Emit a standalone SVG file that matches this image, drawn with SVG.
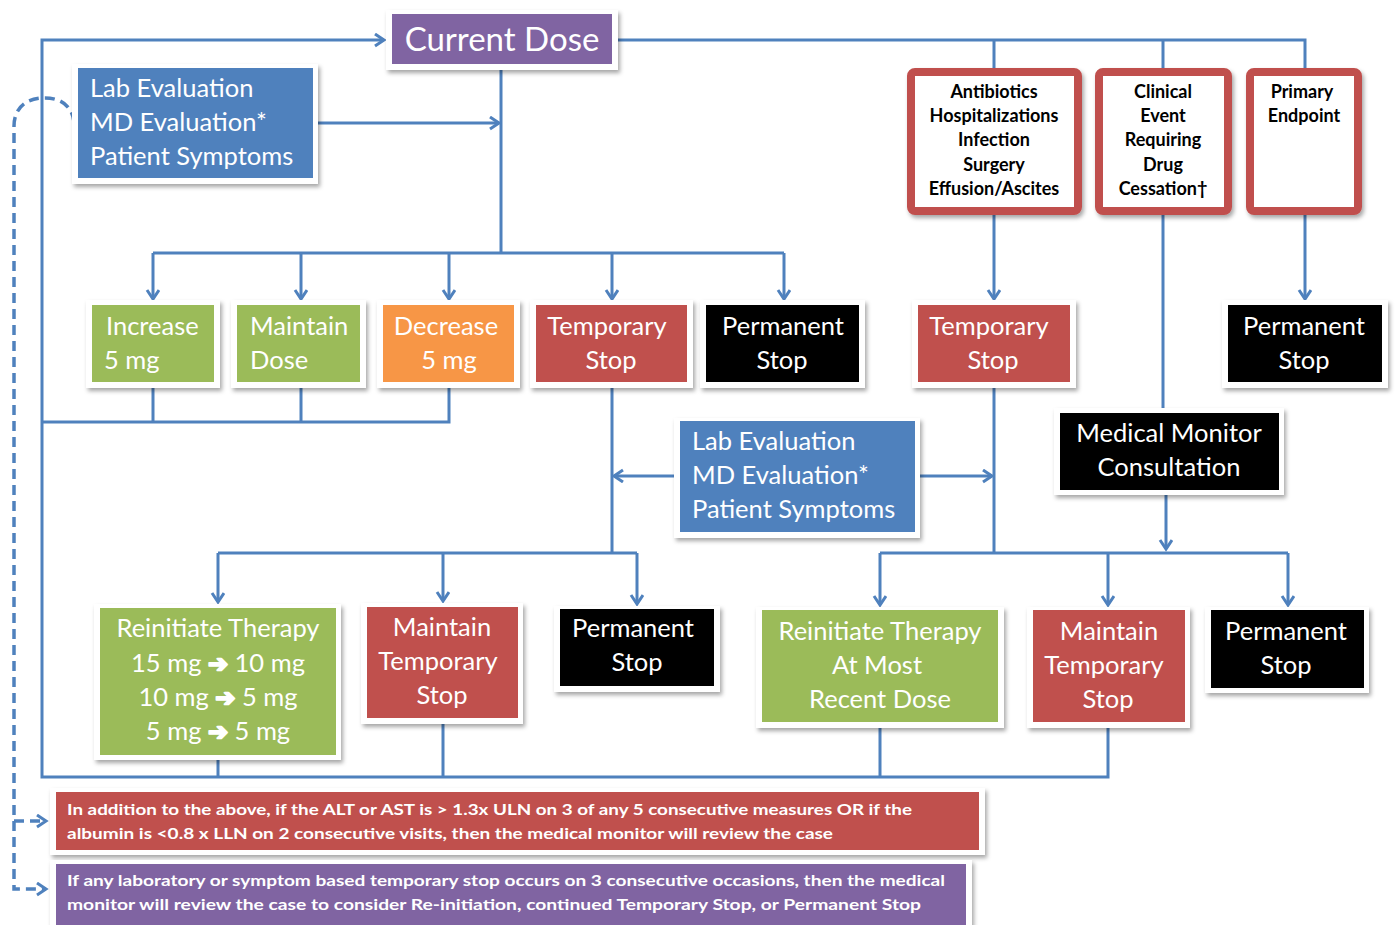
<svg xmlns="http://www.w3.org/2000/svg" width="1395" height="925" viewBox="0 0 1395 925">
<defs>
<filter id="sh" x="-10%" y="-10%" width="125%" height="130%">
<feDropShadow dx="2" dy="3" stdDeviation="2" flood-color="#000" flood-opacity="0.35"/>
</filter>
<marker id="ah" markerUnits="userSpaceOnUse" markerWidth="16" markerHeight="16" refX="11" refY="7" orient="auto">
<path d="M2,1 L11,7 L2,13" fill="none" stroke="#4F81BD" stroke-width="3"/>
</marker>
<style>
.frame{fill:#fff;filter:url(#sh)}
.grn{fill:#9BBB59}.org{fill:#F79646}.red{fill:#C0504D}.blk{fill:#000}.blu{fill:#4F81BD}.pur{fill:#8064A2}
.t{font-family:Lato,"Open Sans",sans-serif;font-size:25.5px;fill:#fff}
.c{text-anchor:middle}
.ar2{font-family:"DejaVu Sans",sans-serif;font-weight:bold;font-size:24px;stroke:#fff;stroke-width:2;stroke-linejoin:round}
.b{font-family:Lato,"Open Sans",sans-serif;font-size:18px;font-weight:bold;fill:#000;text-anchor:middle}
.n{font-family:Lato,"Open Sans",sans-serif;font-size:16px;font-weight:bold;fill:#fff}
.rb{fill:#fff;stroke:#C0504D;stroke-width:8;filter:url(#sh)}
.ln{fill:none;stroke:#4F81BD;stroke-width:3}
.ar{fill:none;stroke:#4F81BD;stroke-width:3;marker-end:url(#ah)}
.ds{fill:none;stroke:#4F81BD;stroke-width:3.5;stroke-dasharray:10 6}
</style>
</defs>
<rect width="1395" height="925" fill="#fff"/>

<g id="connectors">
<path class="ln" d="M1108,728 V777 H42 V40 H384" marker-end="url(#ah)"/>
<path class="ln" d="M218,760 V777 M443,724 V777 M880,728 V777"/>
<path class="ln" d="M449,388 V422 H42 M153,388 V422 M301,388 V422"/>
<path class="ln" d="M618,40 H1305 V68 M994,40 V68 M1163,40 V68"/>
<path class="ln" d="M501,70 V253 M153,253 H784"/>
<path class="ar" d="M153,253 V299"/>
<path class="ar" d="M301,253 V299"/>
<path class="ar" d="M449,253 V299"/>
<path class="ar" d="M612,253 V299"/>
<path class="ar" d="M784,253 V299"/>
<path class="ar" d="M318,123 H499"/>
<path class="ln" d="M612,388 V553 M218,553 H637"/>
<path class="ar" d="M218,553 V602"/>
<path class="ar" d="M443,553 V601"/>
<path class="ar" d="M637,553 V604"/>
<path class="ar" d="M674,476 H614"/>
<path class="ar" d="M920,476 H992"/>
<path class="ar" d="M994,214 V299"/>
<path class="ln" d="M994,388 V553"/>
<path class="ln" d="M1163,214 V408"/>
<path class="ar" d="M1305,214 V299"/>
<path class="ln" d="M880,553 H1288"/>
<path class="ar" d="M1166,495 V549"/>
<path class="ar" d="M880,553 V605"/>
<path class="ar" d="M1108,553 V605"/>
<path class="ar" d="M1288,553 V605"/>
<path class="ds" d="M74,122 C72,104 58,97 42,98 C24,99 14,110 14,126 V889 H46" marker-end="url(#ah)"/>
<path class="ds" d="M14,821 H46" marker-end="url(#ah)"/>
</g>

<g id="current-dose">
<rect class="frame" x="386" y="10" width="232" height="60"/>
<rect class="pur" x="392" y="14" width="220" height="50"/>
<text class="t c" x="502" y="51" style="font-size:33px">Current Dose</text>
</g>

<g id="lab-eval-1">
<rect class="frame" x="72" y="64" width="246" height="120"/>
<rect class="blu" x="78" y="68" width="235" height="110"/>
<text class="t" x="90" y="97">Lab Evaluation</text>
<text class="t" x="90" y="131">MD Evaluation*</text>
<text class="t" x="90" y="165">Patient Symptoms</text>
</g>

<g id="abx">
<rect class="rb" x="911" y="72" width="167" height="139" rx="4"/>
<text class="b" x="994" y="98">Antibiotics</text>
<text class="b" x="994" y="122">Hospitalizations</text>
<text class="b" x="994" y="146">Infection</text>
<text class="b" x="994" y="171">Surgery</text>
<text class="b" x="994" y="195">Effusion/Ascites</text>
</g>
<g id="clinical">
<rect class="rb" x="1099" y="72" width="129" height="139" rx="4"/>
<text class="b" x="1163" y="98">Clinical</text>
<text class="b" x="1163" y="122">Event</text>
<text class="b" x="1163" y="146">Requiring</text>
<text class="b" x="1163" y="171">Drug</text>
<text class="b" x="1163" y="195">Cessation†</text>
</g>
<g id="primary">
<rect class="rb" x="1250" y="72" width="108" height="139" rx="4"/>
<text class="b" x="1302" y="98">Primary</text>
<text class="b" x="1304" y="122">Endpoint</text>
</g>

<g id="increase">
<rect class="frame" x="86" y="300" width="134" height="88"/>
<rect class="grn" x="92" y="305" width="122" height="77"/>
<text class="t" x="106" y="335">Increase</text>
<text class="t" x="104" y="369">5 mg</text>
</g>
<g id="maintain">
<rect class="frame" x="231" y="300" width="135" height="88"/>
<rect class="grn" x="237" y="305" width="123" height="77"/>
<text class="t" x="250" y="335">Maintain</text>
<text class="t" x="250" y="369">Dose</text>
</g>
<g id="decrease">
<rect class="frame" x="377" y="300" width="143" height="88"/>
<rect class="org" x="383" y="305" width="131" height="77"/>
<text class="t c" x="446" y="335">Decrease</text>
<text class="t c" x="449" y="369">5 mg</text>
</g>
<g id="temp-stop-1">
<rect class="frame" x="530" y="300" width="163" height="88"/>
<rect class="red" x="536" y="305" width="151" height="77"/>
<text class="t c" x="607" y="335">Temporary</text>
<text class="t c" x="611" y="369">Stop</text>
</g>
<g id="perm-stop-1">
<rect class="frame" x="700" y="300" width="165" height="88"/>
<rect class="blk" x="706" y="305" width="153" height="77"/>
<text class="t c" x="783" y="335">Permanent</text>
<text class="t c" x="782" y="369">Stop</text>
</g>
<g id="temp-stop-2">
<rect class="frame" x="912" y="300" width="164" height="88"/>
<rect class="red" x="918" y="305" width="152" height="77"/>
<text class="t c" x="989" y="335">Temporary</text>
<text class="t c" x="993" y="369">Stop</text>
</g>
<g id="perm-stop-2">
<rect class="frame" x="1222" y="300" width="166" height="88"/>
<rect class="blk" x="1228" y="305" width="154" height="77"/>
<text class="t c" x="1304" y="335">Permanent</text>
<text class="t c" x="1304" y="369">Stop</text>
</g>

<g id="lab-eval-2">
<rect class="frame" x="674" y="418" width="246" height="120"/>
<rect class="blu" x="680" y="421" width="235" height="111"/>
<text class="t" x="692" y="450">Lab Evaluation</text>
<text class="t" x="692" y="484">MD Evaluation*</text>
<text class="t" x="692" y="518">Patient Symptoms</text>
</g>

<g id="medical-monitor">
<rect class="frame" x="1054" y="408" width="230" height="87"/>
<rect class="blk" x="1060" y="413" width="219" height="77"/>
<text class="t c" x="1169" y="442">Medical Monitor</text>
<text class="t c" x="1169" y="476">Consultation</text>
</g>

<g id="reinit-1">
<rect class="frame" x="94" y="604" width="247" height="156"/>
<rect class="grn" x="100" y="608" width="236" height="147"/>
<text class="t c" x="218" y="637">Reinitiate Therapy</text>
<text class="t c" x="218" y="672">15 mg <tspan class="ar2">➔</tspan> 10 mg</text>
<text class="t c" x="218" y="706">10 mg <tspan class="ar2">➔</tspan> 5 mg</text>
<text class="t c" x="218" y="740">5 mg <tspan class="ar2">➔</tspan> 5 mg</text>
</g>
<g id="maint-temp-1">
<rect class="frame" x="361" y="603" width="162" height="121"/>
<rect class="red" x="367" y="607" width="151" height="111"/>
<text class="t c" x="442" y="636">Maintain</text>
<text class="t c" x="438" y="670">Temporary</text>
<text class="t c" x="442" y="704">Stop</text>
</g>
<g id="perm-stop-3">
<rect class="frame" x="554" y="606" width="166" height="86"/>
<rect class="blk" x="560" y="609" width="154" height="77"/>
<text class="t c" x="633" y="637">Permanent</text>
<text class="t c" x="637" y="671">Stop</text>
</g>
<g id="reinit-2">
<rect class="frame" x="756" y="607" width="248" height="121"/>
<rect class="grn" x="762" y="610" width="236" height="112"/>
<text class="t c" x="880" y="640">Reinitiate Therapy</text>
<text class="t c" x="877" y="674">At Most</text>
<text class="t c" x="880" y="708">Recent Dose</text>
</g>
<g id="maint-temp-2">
<rect class="frame" x="1027" y="607" width="163" height="121"/>
<rect class="red" x="1033" y="610" width="152" height="112"/>
<text class="t c" x="1109" y="640">Maintain</text>
<text class="t c" x="1104" y="674">Temporary</text>
<text class="t c" x="1108" y="708">Stop</text>
</g>
<g id="perm-stop-4">
<rect class="frame" x="1205" y="607" width="164" height="86"/>
<rect class="blk" x="1211" y="610" width="153" height="78"/>
<text class="t c" x="1286" y="640">Permanent</text>
<text class="t c" x="1286" y="674">Stop</text>
</g>

<g id="note-1">
<rect class="frame" x="50" y="788" width="935" height="67"/>
<rect class="red" x="56" y="792" width="923" height="58"/>
<text class="n" x="67" y="815" textLength="845" lengthAdjust="spacingAndGlyphs">In addition  to the above, if the ALT or AST is &gt; 1.3x ULN on 3 of any 5 consecutive measures OR if the</text>
<text class="n" x="67" y="839" textLength="766" lengthAdjust="spacingAndGlyphs">albumin is &lt;0.8 x LLN on 2 consecutive visits, then the medical monitor will review the case</text>
</g>
<g id="note-2">
<rect class="frame" x="50" y="860" width="922" height="68"/>
<rect class="pur" x="56" y="864" width="910" height="61"/>
<text class="n" x="67" y="886" textLength="878" lengthAdjust="spacingAndGlyphs">If any laboratory or symptom based temporary stop occurs on 3 consecutive occasions, then the medical</text>
<text class="n" x="67" y="910" textLength="854" lengthAdjust="spacingAndGlyphs">monitor will review the case to consider Re-initiation, continued Temporary Stop, or  Permanent Stop</text>
</g>
</svg>
